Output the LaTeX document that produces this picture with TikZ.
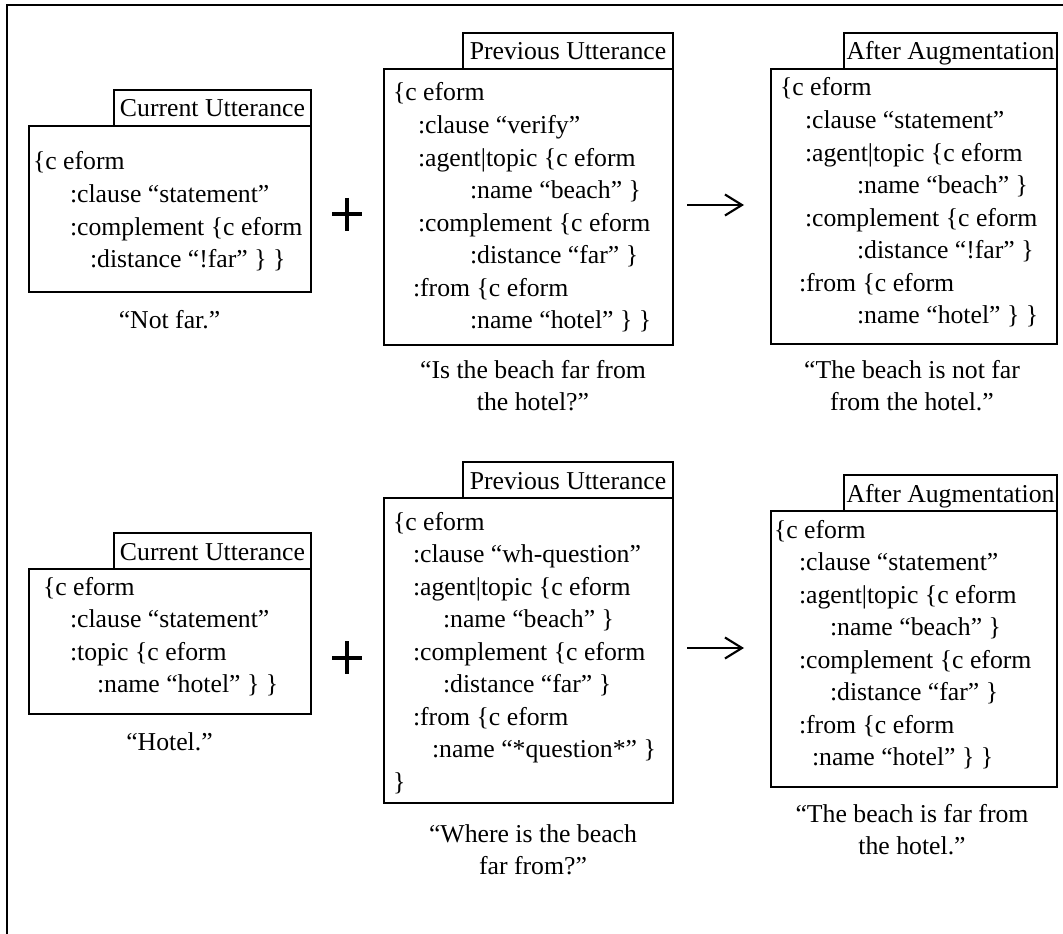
\documentclass[tikz,border=0pt]{standalone}
\usepackage{fontspec}
\setmainfont{Liberation Serif}
\usetikzlibrary{arrows.meta,fit}
\newdimen\pxu \pxu=0.75pt
\newcommand{\ind}[1]{\hspace*{#1\pxu}}
\begin{document}
\begin{tikzpicture}[x=0.75pt,y=-0.75pt,
  every node/.style={font=\fontsize{19.3}{24.4}\selectfont, inner sep=0pt, outer sep=0pt},
  frameline/.style={line width=1.5pt},
  mainbox/.style={draw, line width=1.3pt},
  tabbox/.style={draw, line width=1.2pt, minimum height={36*0.75pt}, text height=13.5pt, text depth=0pt},
  bodytext/.style={anchor=base west},
  captext/.style={anchor=base},
  arrowline/.style={line width=1.6pt, -{Straight Barb[length=12.75pt,width=15.75pt]}},
  plusline/.style={line width=3pt}]
\useasboundingbox (0,0) rectangle (1063,934);

% outer frame (top and left)
\draw[frameline] (1070,5) -- (7,5) -- (7,940);

% ===== Top row =====
\node[mainbox, fit={(29,126) (311,292)}] (A) {};
\node[tabbox, minimum width={197*0.75pt}, anchor=south east] (Atab) at (A.north east) {Current Utterance};
\node[bodytext] (Abody) at (33,170) {\begin{tabular}[t]{@{}l@{}}
\{c eform\\
\ind{37}:clause “statement”\\
\ind{37}:complement \{c eform\\
\ind{57}:distance “!far” \} \}
\end{tabular}};
\node[captext] (Acap) at (169.5,328) {“Not far.”};

\node[mainbox, fit={(384,69) (673,345)}] (B) {};
\node[tabbox, minimum width={210*0.75pt}, anchor=south east] (Btab) at (B.north east) {Previous Utterance};
\node[bodytext] (Bbody) at (393,101) {\begin{tabular}[t]{@{}l@{}}
\{c eform\\
\ind{25}:clause “verify”\\
\ind{25}:agent|topic \{c eform\\
\ind{77}:name “beach” \}\\
\ind{25}:complement \{c eform\\
\ind{77}:distance “far” \}\\
\ind{20}:from \{c eform\\
\ind{77}:name “hotel” \} \}
\end{tabular}};
\node[captext] (Bcap) at (533,378) {\begin{tabular}[t]{@{}c@{}}“Is the beach far from\\ the hotel?”\end{tabular}};

\node[mainbox, fit={(771,69) (1057,344)}] (C) {};
\node[tabbox, minimum width={213*0.75pt}, anchor=south east] (Ctab) at (C.north east) {After Augmentation};
\node[bodytext] (Cbody) at (780,96) {\begin{tabular}[t]{@{}l@{}}
\{c eform\\
\ind{25}:clause “statement”\\
\ind{25}:agent|topic \{c eform\\
\ind{77}:name “beach” \}\\
\ind{25}:complement \{c eform\\
\ind{77}:distance “!far” \}\\
\ind{19}:from \{c eform\\
\ind{77}:name “hotel” \} \}
\end{tabular}};
\node[captext] (Ccap) at (912,378) {\begin{tabular}[t]{@{}c@{}}“The beach is not far\\ from the hotel.”\end{tabular}};

\coordinate (p1) at (347,214.5);
\draw[plusline] ([xshift=-15*0.75pt]p1) -- ([xshift=15*0.75pt]p1)
                ([yshift=16.5*0.75pt]p1) -- ([yshift=-16.5*0.75pt]p1);
\coordinate (a1s) at (687,205);
\coordinate (a1e) at (744,205);
\draw[arrowline] (a1s) -- (a1e);

% ===== Bottom row =====
\node[mainbox, fit={(29,569) (311,714)}] (D) {};
\node[tabbox, minimum width={197*0.75pt}, anchor=south east] (Dtab) at (D.north east) {Current Utterance};
\node[bodytext] (Dbody) at (43,595) {\begin{tabular}[t]{@{}l@{}}
\{c eform\\
\ind{27}:clause “statement”\\
\ind{27}:topic \{c eform\\
\ind{54}:name “hotel” \} \}
\end{tabular}};
\node[captext] (Dcap) at (169.5,750) {“Hotel.”};

\node[mainbox, fit={(384,498) (673,803)}] (E) {};
\node[tabbox, minimum width={210*0.75pt}, anchor=south east] (Etab) at (E.north east) {Previous Utterance};
\node[bodytext] (Ebody) at (393,530) {\begin{tabular}[t]{@{}l@{}}
\{c eform\\
\ind{20}:clause “wh-question”\\
\ind{20}:agent|topic \{c eform\\
\ind{50}:name “beach” \}\\
\ind{20}:complement \{c eform\\
\ind{50}:distance “far” \}\\
\ind{20}:from \{c eform\\
\ind{39}:name “*question*” \}\\
\}
\end{tabular}};
\node[captext] (Ecap) at (533,842) {\begin{tabular}[t]{@{}c@{}}“Where is the beach\\ far from?”\end{tabular}};

\node[mainbox, fit={(771,511) (1057,787)}] (F) {};
\node[tabbox, minimum width={213*0.75pt}, anchor=south east] (Ftab) at (F.north east) {After Augmentation};
\node[bodytext] (Fbody) at (774,538) {\begin{tabular}[t]{@{}l@{}}
\{c eform\\
\ind{25}:clause “statement”\\
\ind{25}:agent|topic \{c eform\\
\ind{56}:name “beach” \}\\
\ind{25}:complement \{c eform\\
\ind{56}:distance “far” \}\\
\ind{25}:from \{c eform\\
\ind{38}:name “hotel” \} \}
\end{tabular}};
\node[captext] (Fcap) at (912,822) {\begin{tabular}[t]{@{}c@{}}“The beach is far from\\ the hotel.”\end{tabular}};

\coordinate (p2) at (347,657.5);
\draw[plusline] ([xshift=-15*0.75pt]p2) -- ([xshift=15*0.75pt]p2)
                ([yshift=16.5*0.75pt]p2) -- ([yshift=-16.5*0.75pt]p2);
\coordinate (a2s) at (687,648);
\coordinate (a2e) at (744,648);
\draw[arrowline] (a2s) -- (a2e);
\end{tikzpicture}
\end{document}
